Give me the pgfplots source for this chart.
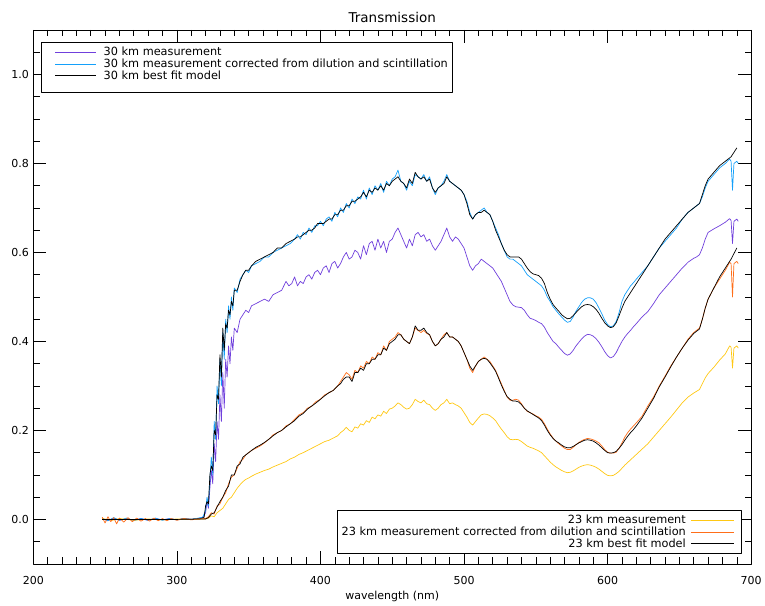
\documentclass[border=0pt]{standalone}
\usepackage{fontspec}
\setmainfont{DejaVu Sans}
\usepackage{pgfplots}
\pgfplotsset{compat=1.18}
\usepackage{pgfplotstable}
\definecolor{cpurple}{RGB}{112,64,220}
\definecolor{cblue}{RGB}{20,160,250}
\definecolor{corange}{RGB}{255,110,25}
\definecolor{cyellow}{RGB}{255,200,20}

\pgfplotstableread[row sep=\\]{x y\\
248 0.002\\ 252 -0.003\\ 256 0.003\\ 260 -0.002\\ 265 0.002\\ 270 -0.002\\ 275 0.002\\ 280 -0.002\\ 285 0.002\\ 290 -0.001\\ 295 0.002\\ 300 -0.001\\ 305 0.002\\ 310 0.0\\ 315 0.002\\ 318 0.004\\ 320 0.015\\ 321 0.04\\ 322 0.025\\ 323 0.07\\ 324 0.11\\ 325 0.08\\ 326 0.17\\ 327 0.13\\ 328 0.22\\ 329 0.18\\ 330 0.28\\ 331 0.22\\ 332 0.33\\ 333 0.25\\ 334 0.36\\ 335 0.32\\ 336 0.39\\ 337 0.35\\ 338 0.41\\ 339 0.38\\ 340 0.43\\ 342 0.42\\ 344 0.45\\ 346 0.46\\ 348 0.47\\ 350 0.465\\ 352 0.48\\ 355 0.485\\ 358 0.49\\ 361 0.495\\ 364 0.49\\ 367 0.505\\ 370 0.51\\ 373 0.515\\ 376 0.535\\ 378 0.525\\ 380 0.53\\ 382 0.545\\ 384 0.525\\ 386 0.535\\ 388 0.53\\ 390 0.545\\ 392 0.55\\ 394 0.54\\ 396 0.555\\ 398 0.56\\ 400 0.55\\ 402 0.565\\ 404 0.57\\ 406 0.555\\ 408 0.575\\ 410 0.58\\ 412 0.565\\ 414 0.575\\ 416 0.59\\ 418 0.6\\ 420 0.585\\ 422 0.59\\ 424 0.605\\ 426 0.60\\ 428 0.585\\ 430 0.615\\ 432 0.595\\ 434 0.62\\ 436 0.625\\ 438 0.605\\ 440 0.63\\ 442 0.61\\ 444 0.625\\ 446 0.60\\ 448 0.625\\ 450 0.63\\ 452 0.645\\ 454 0.655\\ 456 0.64\\ 458 0.625\\ 460 0.61\\ 462 0.63\\ 464 0.615\\ 466 0.64\\ 468 0.645\\ 470 0.635\\ 472 0.64\\ 474 0.625\\ 476 0.63\\ 478 0.615\\ 480 0.605\\ 482 0.615\\ 484 0.625\\ 486 0.64\\ 488 0.655\\ 490 0.635\\ 492 0.625\\ 494 0.635\\ 496 0.63\\ 498 0.62\\ 500 0.61\\ 502 0.59\\ 504 0.57\\ 506 0.56\\ 508 0.57\\ 510 0.575\\ 512 0.585\\ 514 0.58\\ 516 0.575\\ 518 0.57\\ 520 0.565\\ 522 0.555\\ 524 0.545\\ 526 0.535\\ 528 0.52\\ 530 0.505\\ 532 0.49\\ 534 0.482\\ 536 0.478\\ 538 0.477\\ 540 0.476\\ 542 0.47\\ 544 0.46\\ 546 0.452\\ 548 0.45\\ 550 0.447\\ 552 0.443\\ 554 0.44\\ 556 0.432\\ 558 0.42\\ 560 0.41\\ 562 0.40\\ 564 0.395\\ 566 0.387\\ 568 0.38\\ 570 0.373\\ 572 0.369\\ 574 0.372\\ 576 0.38\\ 578 0.39\\ 580 0.398\\ 582 0.406\\ 584 0.412\\ 586 0.416\\ 588 0.415\\ 590 0.412\\ 592 0.406\\ 594 0.398\\ 596 0.388\\ 598 0.377\\ 600 0.368\\ 602 0.363\\ 604 0.366\\ 606 0.375\\ 608 0.388\\ 610 0.40\\ 612 0.41\\ 614 0.418\\ 616 0.425\\ 618 0.433\\ 620 0.44\\ 624 0.455\\ 628 0.467\\ 632 0.485\\ 636 0.505\\ 640 0.52\\ 644 0.535\\ 648 0.55\\ 652 0.565\\ 656 0.578\\ 660 0.587\\ 662 0.59\\ 664 0.595\\ 666 0.61\\ 668 0.63\\ 670 0.645\\ 674 0.653\\ 678 0.66\\ 682 0.668\\ 685 0.676\\ 686 0.672\\ 687 0.62\\ 688 0.67\\ 690 0.675\\ 691 0.67\\
}\purplethirty

\pgfplotstableread[row sep=\\]{x y\\
248 0.002\\ 252 -0.003\\ 256 0.004\\ 260 -0.002\\ 265 0.003\\ 270 -0.003\\ 275 0.002\\ 280 -0.002\\ 285 0.003\\ 290 -0.002\\ 295 0.002\\ 300 -0.001\\ 305 0.002\\ 310 0.000\\ 315 0.003\\ 318 0.005\\ 320 0.02\\ 321 0.05\\ 322 0.03\\ 323 0.09\\ 324 0.14\\ 325 0.10\\ 326 0.22\\ 327 0.18\\ 328 0.30\\ 329 0.26\\ 330 0.36\\ 331 0.30\\ 332 0.42\\ 333 0.36\\ 334 0.45\\ 335 0.42\\ 336 0.48\\ 337 0.45\\ 338 0.50\\ 339 0.47\\ 340 0.52\\ 342 0.51\\ 344 0.54\\ 346 0.55\\ 348 0.56\\ 350 0.555\\ 352 0.57\\ 355 0.575\\ 358 0.58\\ 361 0.59\\ 364 0.59\\ 367 0.60\\ 370 0.605\\ 373 0.61\\ 376 0.615\\ 379 0.62\\ 382 0.63\\ 384 0.64\\ 386 0.63\\ 388 0.645\\ 390 0.64\\ 392 0.655\\ 394 0.645\\ 396 0.66\\ 398 0.66\\ 400 0.67\\ 402 0.66\\ 404 0.675\\ 406 0.68\\ 408 0.67\\ 410 0.69\\ 412 0.68\\ 414 0.70\\ 416 0.69\\ 418 0.71\\ 420 0.70\\ 422 0.72\\ 424 0.71\\ 426 0.725\\ 428 0.72\\ 430 0.74\\ 432 0.72\\ 434 0.745\\ 436 0.73\\ 438 0.75\\ 440 0.74\\ 442 0.755\\ 444 0.735\\ 446 0.76\\ 448 0.75\\ 450 0.765\\ 452 0.77\\ 454 0.785\\ 456 0.76\\ 458 0.755\\ 460 0.74\\ 462 0.76\\ 464 0.75\\ 466 0.775\\ 468 0.77\\ 470 0.765\\ 472 0.775\\ 474 0.76\\ 476 0.77\\ 478 0.745\\ 480 0.73\\ 482 0.745\\ 484 0.75\\ 486 0.76\\ 488 0.775\\ 490 0.76\\ 492 0.755\\ 494 0.75\\ 496 0.745\\ 498 0.74\\ 500 0.73\\ 502 0.715\\ 504 0.69\\ 506 0.675\\ 508 0.685\\ 510 0.69\\ 512 0.695\\ 514 0.70\\ 516 0.69\\ 518 0.685\\ 520 0.67\\ 522 0.655\\ 524 0.64\\ 526 0.62\\ 528 0.605\\ 530 0.59\\ 532 0.585\\ 534 0.585\\ 536 0.58\\ 538 0.575\\ 540 0.57\\ 542 0.56\\ 544 0.55\\ 546 0.545\\ 548 0.54\\ 550 0.535\\ 552 0.53\\ 554 0.525\\ 556 0.515\\ 558 0.50\\ 560 0.49\\ 562 0.478\\ 564 0.47\\ 566 0.462\\ 568 0.455\\ 570 0.448\\ 572 0.443\\ 574 0.445\\ 576 0.455\\ 578 0.468\\ 580 0.478\\ 582 0.488\\ 584 0.495\\ 586 0.498\\ 588 0.498\\ 590 0.495\\ 592 0.487\\ 594 0.475\\ 596 0.462\\ 598 0.448\\ 600 0.438\\ 602 0.433\\ 604 0.435\\ 606 0.445\\ 608 0.465\\ 610 0.49\\ 612 0.505\\ 614 0.515\\ 616 0.525\\ 618 0.532\\ 620 0.54\\ 624 0.555\\ 628 0.57\\ 632 0.59\\ 636 0.61\\ 640 0.625\\ 644 0.64\\ 648 0.655\\ 652 0.675\\ 656 0.69\\ 660 0.70\\ 662 0.705\\ 664 0.71\\ 666 0.725\\ 668 0.745\\ 670 0.76\\ 674 0.775\\ 678 0.79\\ 682 0.80\\ 685 0.81\\ 686 0.805\\ 687 0.74\\ 688 0.80\\ 690 0.805\\ 691 0.80\\
}\bluethirty

\pgfplotstableread[row sep=\\]{x y\\
248 0.0\\ 260 0.0\\ 280 0.0\\ 300 0.0\\ 316 0.001\\ 319 0.005\\ 320 0.03\\ 321 0.04\\ 322 0.035\\ 323 0.10\\ 324 0.12\\ 325 0.11\\ 326 0.20\\ 327 0.19\\ 328 0.28\\ 329 0.27\\ 330 0.37\\ 331 0.32\\ 332 0.43\\ 333 0.38\\ 334 0.44\\ 335 0.43\\ 336 0.47\\ 337 0.46\\ 338 0.49\\ 339 0.48\\ 340 0.515\\ 342 0.515\\ 344 0.535\\ 346 0.55\\ 348 0.56\\ 350 0.56\\ 352 0.57\\ 355 0.58\\ 358 0.585\\ 361 0.59\\ 364 0.595\\ 367 0.60\\ 370 0.61\\ 373 0.61\\ 376 0.62\\ 379 0.625\\ 382 0.63\\ 384 0.635\\ 386 0.635\\ 388 0.64\\ 390 0.645\\ 392 0.65\\ 394 0.65\\ 396 0.655\\ 398 0.665\\ 400 0.665\\ 402 0.665\\ 404 0.67\\ 406 0.675\\ 408 0.675\\ 410 0.685\\ 412 0.685\\ 414 0.695\\ 416 0.695\\ 418 0.705\\ 420 0.705\\ 422 0.715\\ 424 0.715\\ 426 0.72\\ 428 0.725\\ 430 0.735\\ 432 0.725\\ 434 0.74\\ 436 0.735\\ 438 0.745\\ 440 0.74\\ 442 0.75\\ 444 0.74\\ 446 0.755\\ 448 0.75\\ 450 0.76\\ 452 0.765\\ 454 0.77\\ 456 0.76\\ 458 0.755\\ 460 0.745\\ 462 0.765\\ 464 0.755\\ 466 0.78\\ 468 0.77\\ 470 0.765\\ 472 0.77\\ 474 0.76\\ 476 0.765\\ 478 0.745\\ 480 0.735\\ 482 0.745\\ 484 0.75\\ 486 0.755\\ 488 0.77\\ 490 0.76\\ 492 0.755\\ 494 0.75\\ 496 0.745\\ 498 0.74\\ 500 0.73\\ 502 0.71\\ 504 0.685\\ 506 0.675\\ 508 0.685\\ 510 0.69\\ 512 0.69\\ 514 0.695\\ 516 0.69\\ 518 0.685\\ 520 0.67\\ 522 0.65\\ 524 0.635\\ 526 0.62\\ 528 0.605\\ 530 0.595\\ 532 0.59\\ 534 0.59\\ 536 0.59\\ 538 0.59\\ 540 0.585\\ 542 0.575\\ 544 0.565\\ 546 0.557\\ 548 0.552\\ 550 0.55\\ 552 0.548\\ 554 0.542\\ 556 0.53\\ 558 0.51\\ 560 0.495\\ 562 0.483\\ 564 0.475\\ 566 0.468\\ 568 0.46\\ 570 0.455\\ 572 0.451\\ 574 0.452\\ 576 0.458\\ 578 0.465\\ 580 0.472\\ 582 0.478\\ 584 0.482\\ 586 0.483\\ 588 0.482\\ 590 0.478\\ 592 0.472\\ 594 0.463\\ 596 0.452\\ 598 0.442\\ 600 0.435\\ 602 0.431\\ 604 0.433\\ 606 0.442\\ 608 0.458\\ 610 0.475\\ 612 0.49\\ 614 0.50\\ 616 0.51\\ 618 0.52\\ 620 0.53\\ 624 0.55\\ 628 0.57\\ 632 0.59\\ 636 0.61\\ 640 0.63\\ 644 0.645\\ 648 0.66\\ 652 0.675\\ 656 0.69\\ 660 0.70\\ 662 0.705\\ 664 0.71\\ 666 0.73\\ 668 0.75\\ 670 0.765\\ 674 0.78\\ 678 0.795\\ 682 0.805\\ 686 0.815\\ 690 0.835\\
}\blackthirty

\pgfplotstableread[row sep=\\]{x y\\
248 0.002\\ 255 -0.002\\ 260 0.002\\ 270 -0.002\\ 280 0.001\\ 290 -0.001\\ 300 0.001\\ 310 0.0\\ 320 0.001\\ 322 0.003\\ 324 0.008\\ 326 0.006\\ 328 0.015\\ 330 0.02\\ 332 0.025\\ 334 0.035\\ 336 0.045\\ 338 0.05\\ 340 0.06\\ 342 0.07\\ 344 0.078\\ 346 0.085\\ 348 0.09\\ 350 0.093\\ 352 0.097\\ 355 0.102\\ 358 0.106\\ 361 0.11\\ 364 0.113\\ 367 0.118\\ 370 0.122\\ 373 0.126\\ 376 0.13\\ 379 0.136\\ 382 0.14\\ 385 0.146\\ 388 0.15\\ 391 0.155\\ 394 0.16\\ 397 0.165\\ 400 0.17\\ 403 0.175\\ 406 0.178\\ 409 0.183\\ 412 0.188\\ 414 0.195\\ 416 0.2\\ 418 0.207\\ 420 0.2\\ 422 0.197\\ 424 0.208\\ 426 0.205\\ 428 0.215\\ 430 0.212\\ 432 0.222\\ 434 0.218\\ 436 0.23\\ 438 0.226\\ 440 0.235\\ 442 0.232\\ 444 0.243\\ 446 0.238\\ 448 0.248\\ 450 0.25\\ 452 0.255\\ 454 0.262\\ 456 0.258\\ 458 0.252\\ 460 0.248\\ 462 0.25\\ 464 0.258\\ 466 0.27\\ 468 0.265\\ 470 0.262\\ 472 0.268\\ 474 0.26\\ 476 0.258\\ 478 0.25\\ 480 0.245\\ 482 0.25\\ 484 0.258\\ 486 0.262\\ 488 0.27\\ 490 0.26\\ 492 0.262\\ 494 0.258\\ 496 0.255\\ 498 0.25\\ 500 0.24\\ 502 0.23\\ 504 0.218\\ 506 0.212\\ 508 0.22\\ 510 0.228\\ 512 0.235\\ 514 0.237\\ 516 0.236\\ 518 0.233\\ 520 0.228\\ 522 0.222\\ 524 0.212\\ 526 0.203\\ 528 0.195\\ 530 0.186\\ 532 0.18\\ 534 0.179\\ 536 0.18\\ 538 0.179\\ 540 0.175\\ 542 0.17\\ 544 0.165\\ 546 0.162\\ 548 0.16\\ 550 0.157\\ 552 0.154\\ 554 0.15\\ 556 0.143\\ 558 0.136\\ 560 0.129\\ 562 0.123\\ 564 0.118\\ 566 0.114\\ 568 0.11\\ 570 0.107\\ 572 0.105\\ 574 0.106\\ 576 0.109\\ 578 0.113\\ 580 0.117\\ 582 0.12\\ 584 0.122\\ 586 0.123\\ 588 0.122\\ 590 0.12\\ 592 0.117\\ 594 0.113\\ 596 0.108\\ 598 0.103\\ 600 0.099\\ 602 0.098\\ 604 0.099\\ 606 0.103\\ 608 0.108\\ 610 0.115\\ 612 0.122\\ 614 0.128\\ 616 0.134\\ 618 0.14\\ 620 0.146\\ 624 0.158\\ 628 0.17\\ 632 0.185\\ 636 0.2\\ 640 0.215\\ 644 0.23\\ 648 0.246\\ 652 0.262\\ 656 0.275\\ 660 0.284\\ 662 0.288\\ 664 0.292\\ 666 0.305\\ 668 0.318\\ 670 0.328\\ 674 0.342\\ 678 0.358\\ 682 0.372\\ 685 0.39\\ 686 0.387\\ 687 0.34\\ 688 0.385\\ 690 0.39\\ 691 0.385\\
}\yellowtwenty

\pgfplotstableread[row sep=\\]{x y\\
248 0.005\\ 250 -0.008\\ 252 0.006\\ 254 -0.005\\ 256 0.004\\ 258 -0.01\\ 260 0.003\\ 263 -0.006\\ 266 0.004\\ 269 -0.005\\ 272 0.003\\ 275 -0.004\\ 278 0.002\\ 281 -0.004\\ 284 0.003\\ 287 -0.003\\ 290 0.002\\ 293 -0.003\\ 296 0.002\\ 300 -0.002\\ 305 0.002\\ 310 -0.001\\ 315 0.001\\ 320 0.002\\ 322 0.006\\ 324 0.015\\ 326 0.012\\ 328 0.03\\ 330 0.035\\ 332 0.05\\ 334 0.06\\ 336 0.08\\ 338 0.095\\ 340 0.10\\ 342 0.115\\ 344 0.13\\ 346 0.135\\ 348 0.145\\ 350 0.15\\ 352 0.155\\ 355 0.16\\ 358 0.165\\ 361 0.172\\ 364 0.18\\ 367 0.19\\ 370 0.195\\ 373 0.20\\ 376 0.21\\ 379 0.215\\ 382 0.225\\ 385 0.235\\ 388 0.24\\ 391 0.25\\ 394 0.255\\ 397 0.265\\ 400 0.27\\ 403 0.28\\ 406 0.285\\ 409 0.29\\ 412 0.30\\ 414 0.31\\ 416 0.32\\ 418 0.33\\ 420 0.325\\ 422 0.315\\ 424 0.335\\ 426 0.33\\ 428 0.345\\ 430 0.34\\ 432 0.355\\ 434 0.35\\ 436 0.365\\ 438 0.36\\ 440 0.375\\ 442 0.37\\ 444 0.39\\ 446 0.38\\ 448 0.40\\ 450 0.405\\ 452 0.41\\ 454 0.42\\ 456 0.415\\ 458 0.405\\ 460 0.40\\ 462 0.395\\ 464 0.41\\ 466 0.43\\ 468 0.425\\ 470 0.42\\ 472 0.425\\ 474 0.418\\ 476 0.415\\ 478 0.40\\ 480 0.39\\ 482 0.395\\ 484 0.405\\ 486 0.415\\ 488 0.42\\ 490 0.41\\ 492 0.41\\ 494 0.405\\ 496 0.40\\ 498 0.39\\ 500 0.375\\ 502 0.36\\ 504 0.34\\ 506 0.33\\ 508 0.345\\ 510 0.355\\ 512 0.36\\ 514 0.365\\ 516 0.36\\ 518 0.355\\ 520 0.345\\ 522 0.335\\ 524 0.32\\ 526 0.305\\ 528 0.29\\ 530 0.275\\ 532 0.268\\ 534 0.268\\ 536 0.27\\ 538 0.268\\ 540 0.26\\ 542 0.25\\ 544 0.243\\ 546 0.24\\ 548 0.237\\ 550 0.233\\ 552 0.23\\ 554 0.225\\ 556 0.215\\ 558 0.203\\ 560 0.192\\ 562 0.183\\ 564 0.176\\ 566 0.17\\ 568 0.165\\ 570 0.16\\ 572 0.157\\ 574 0.157\\ 576 0.162\\ 578 0.168\\ 580 0.173\\ 582 0.177\\ 584 0.18\\ 586 0.182\\ 588 0.181\\ 590 0.179\\ 592 0.176\\ 594 0.172\\ 596 0.165\\ 598 0.157\\ 600 0.151\\ 602 0.149\\ 604 0.149\\ 606 0.151\\ 608 0.16\\ 610 0.172\\ 612 0.185\\ 614 0.195\\ 616 0.203\\ 618 0.21\\ 620 0.217\\ 624 0.232\\ 628 0.255\\ 632 0.275\\ 636 0.3\\ 640 0.322\\ 644 0.345\\ 648 0.365\\ 652 0.385\\ 656 0.405\\ 660 0.42\\ 662 0.425\\ 664 0.43\\ 666 0.45\\ 668 0.475\\ 670 0.495\\ 674 0.52\\ 678 0.54\\ 682 0.56\\ 685 0.578\\ 686 0.575\\ 687 0.50\\ 688 0.575\\ 690 0.58\\ 691 0.575\\
}\orangetwenty

\pgfplotstableread[row sep=\\]{x y\\
248 0.0\\ 300 0.0\\ 320 0.001\\ 322 0.004\\ 324 0.012\\ 326 0.015\\ 328 0.028\\ 330 0.04\\ 332 0.05\\ 334 0.065\\ 336 0.075\\ 338 0.10\\ 340 0.10\\ 342 0.12\\ 344 0.125\\ 346 0.14\\ 348 0.145\\ 350 0.15\\ 352 0.155\\ 355 0.162\\ 358 0.167\\ 361 0.173\\ 364 0.18\\ 367 0.188\\ 370 0.195\\ 373 0.20\\ 376 0.208\\ 379 0.215\\ 382 0.222\\ 385 0.232\\ 388 0.238\\ 391 0.248\\ 394 0.255\\ 397 0.262\\ 400 0.27\\ 403 0.278\\ 406 0.285\\ 409 0.29\\ 412 0.30\\ 414 0.305\\ 416 0.315\\ 418 0.32\\ 420 0.32\\ 422 0.31\\ 424 0.33\\ 426 0.33\\ 428 0.34\\ 430 0.335\\ 432 0.35\\ 434 0.35\\ 436 0.36\\ 438 0.36\\ 440 0.37\\ 442 0.37\\ 444 0.385\\ 446 0.38\\ 448 0.395\\ 450 0.40\\ 452 0.405\\ 454 0.415\\ 456 0.415\\ 458 0.405\\ 460 0.40\\ 462 0.395\\ 464 0.41\\ 466 0.435\\ 468 0.425\\ 470 0.425\\ 472 0.43\\ 474 0.42\\ 476 0.415\\ 478 0.40\\ 480 0.39\\ 482 0.395\\ 484 0.405\\ 486 0.41\\ 488 0.42\\ 490 0.41\\ 492 0.41\\ 494 0.405\\ 496 0.40\\ 498 0.39\\ 500 0.375\\ 502 0.36\\ 504 0.345\\ 506 0.335\\ 508 0.345\\ 510 0.355\\ 512 0.36\\ 514 0.362\\ 516 0.36\\ 518 0.352\\ 520 0.343\\ 522 0.333\\ 524 0.318\\ 526 0.302\\ 528 0.288\\ 530 0.276\\ 532 0.27\\ 534 0.266\\ 536 0.266\\ 538 0.264\\ 540 0.258\\ 542 0.25\\ 544 0.244\\ 546 0.24\\ 548 0.236\\ 550 0.232\\ 552 0.228\\ 554 0.222\\ 556 0.212\\ 558 0.2\\ 560 0.19\\ 562 0.182\\ 564 0.176\\ 566 0.172\\ 568 0.167\\ 570 0.163\\ 572 0.161\\ 574 0.161\\ 576 0.164\\ 578 0.168\\ 580 0.172\\ 582 0.175\\ 584 0.178\\ 586 0.179\\ 588 0.178\\ 590 0.176\\ 592 0.172\\ 594 0.167\\ 596 0.161\\ 598 0.155\\ 600 0.15\\ 602 0.149\\ 604 0.15\\ 606 0.153\\ 608 0.16\\ 610 0.168\\ 612 0.178\\ 614 0.187\\ 616 0.195\\ 618 0.202\\ 620 0.21\\ 624 0.228\\ 628 0.25\\ 632 0.272\\ 636 0.298\\ 640 0.32\\ 644 0.343\\ 648 0.365\\ 652 0.385\\ 656 0.403\\ 660 0.418\\ 662 0.423\\ 664 0.428\\ 666 0.45\\ 668 0.475\\ 670 0.495\\ 674 0.52\\ 678 0.545\\ 682 0.565\\ 686 0.585\\ 690 0.61\\
}\blacktwenty

\pgfplotsset{
  common/.style={
    width=718pt, height=534pt, scale only axis,
    xmin=200, xmax=700, ymin=-0.1, ymax=1.1,
    line join=round,
  },
  leg/.style={
    legend style={draw=black, line width=0.6pt, fill=white,
      font=\fontsize{11.3}{13}\selectfont,
      inner xsep=3pt, inner ysep=4pt,
      nodes={inner xsep=1pt, inner ysep=1.5pt, text height=7.8pt, text depth=1pt},
      row sep=0pt},
  },
}

\begin{document}
\begin{tikzpicture}
\begin{axis}[common, leg,
  title={Transmission},
  title style={font=\fontsize{13.5}{15}\selectfont, at={(0.5,1)}, anchor=south, inner sep=0pt, yshift=1.5pt},
  xlabel={wavelength (nm)},
  xlabel style={font=\fontsize{11}{13}\selectfont, at={(0.5,0)}, anchor=base, yshift=-36pt},
  xtick={200,300,400,500,600,700},
  ytick={0,0.2,0.4,0.6,0.8,1.0},
  minor xtick={210,220,230,240,250,260,270,280,290,310,320,330,340,350,360,370,380,390,410,420,430,440,450,460,470,480,490,510,520,530,540,550,560,570,580,590,610,620,630,640,650,660,670,680,690},
  minor ytick={-0.05,0.05,0.1,0.15,0.25,0.3,0.35,0.45,0.5,0.55,0.65,0.7,0.75,0.85,0.9,0.95,1.05},
  major tick length=13pt, minor tick length=6.5pt,
  tick align=inside,
  every tick/.append style={black, line width=0.6pt},
  axis line style={line width=0.6pt},
  tick label style={font=\fontsize{11}{13}\selectfont},
  /pgf/number format/assume math mode=true,
  yticklabel style={anchor=east, xshift=-1pt, /pgf/number format/.cd, fixed, fixed zerofill, precision=1},
  xticklabel style={anchor=base, yshift=-21pt, /pgf/number format/.cd, 1000 sep={}},
  legend style={at={(0.0103,0.9775)}, anchor=north west},
  legend cell align=left,
  legend image code/.code={\path (-11pt,0pt); \draw[#1] (0pt,0pt) -- (41pt,0pt); \path (47pt,0pt);},
]
\addplot[cpurple, line width=0.7pt] table {\purplethirty};
\addlegendentry{30 km measurement}
\addplot[cblue, line width=0.7pt] table {\bluethirty};
\addlegendentry{30 km measurement corrected from dilution and scintillation}
\addplot[black, line width=0.7pt] table {\blackthirty};
\addlegendentry{30 km best fit model}
\addlegendimage{empty legend}
\addlegendentry[text height=4pt, text depth=0pt]{}
\end{axis}

\begin{axis}[common, leg, hide axis,
  legend style={at={(0.987,0.0187)}, anchor=south east},
  legend cell align=right,
  legend plot pos=right,
  legend image code/.code={\path (-4pt,0pt); \draw[#1] (0pt,0pt) -- (43pt,0pt); \path (47pt,0pt);},
]
\addplot[cyellow, line width=0.7pt] table {\yellowtwenty};
\addlegendentry{23 km measurement}
\addplot[corange, line width=0.7pt] table {\orangetwenty};
\addlegendentry{23 km measurement corrected from dilution and scintillation}
\addplot[black, line width=0.7pt] table {\blacktwenty};
\addlegendentry{23 km best fit model}
\end{axis}
\path (current axis.south west) +(-33.3pt,-40pt) (current axis.north east) +(13.3pt,30pt);
\end{tikzpicture}
\end{document}
